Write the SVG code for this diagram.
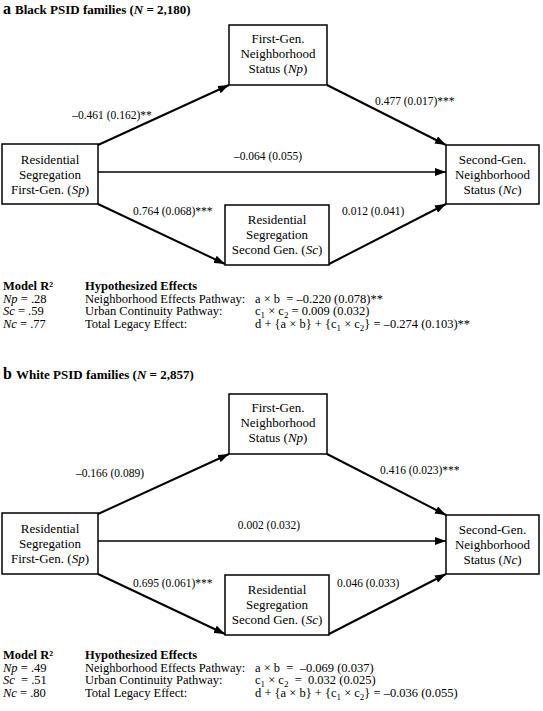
<svg xmlns="http://www.w3.org/2000/svg" width="543" height="711" viewBox="0 0 543 711">
<style>
text{font-family:"Liberation Serif","DejaVu Serif","Times New Roman",serif;font-size:13px;fill:#000}
.t{font-weight:bold}
.big{font-size:16px;font-weight:bold}
.c{text-anchor:middle}
.m{text-anchor:middle}
.lb{font-size:11.5px}
.tb{font-size:12.5px}
.sub{font-size:9px}
.box{fill:#fff;stroke:#000;stroke-width:1.5}
.ar{stroke:#000;stroke-width:2;fill:none;marker-end:url(#ah)}
.arh{stroke:#000;stroke-width:1.3;fill:none;marker-end:url(#ah)}
.i{font-style:italic}
</style>
<defs>
<marker id="ah" markerUnits="userSpaceOnUse" markerWidth="11" markerHeight="8" refX="11" refY="4" orient="auto">
<path d="M0,0 L11,4 L0,8 z" fill="#000"/>
</marker>
</defs>
<rect width="543" height="711" fill="#fff"/>

<!-- Panel a -->
<text x="3" y="14"><tspan class="big">a</tspan><tspan class="t" dx="4">Black PSID families (</tspan><tspan class="t i">N</tspan><tspan class="t"> = 2,180)</tspan></text>

<g id="connectors-a">
<line class="ar" x1="98" y1="145" x2="229" y2="85"/>
<line class="ar" x1="327" y1="85" x2="446" y2="145"/>
<line class="arh" x1="98" y1="172" x2="446" y2="172"/>
<line class="ar" x1="98" y1="204" x2="225" y2="264"/>
<line class="ar" x1="329" y1="264" x2="446" y2="204"/>
<text class="lb m" x="112" y="119">–0.461 (0.162)**</text>
<text class="lb" x="375" y="105">0.477 (0.017)***</text>
<text class="lb m" x="268" y="160">–0.064 (0.055)</text>
<text class="lb" x="133" y="215">0.764 (0.068)***</text>
<text class="lb" x="342" y="215">0.012 (0.041)</text>
</g>

<g id="a-Np">
<rect class="box" x="229" y="25" width="98" height="60"/>
<text class="c" x="278" y="43">First-Gen.</text>
<text class="c" x="278" y="58">Neighborhood</text>
<text class="c" x="278" y="73">Status (<tspan class="i">Np</tspan>)</text>
</g>
<g id="a-Sp">
<rect class="box" x="2" y="144" width="96" height="60"/>
<text class="c" x="50" y="164">Residential</text>
<text class="c" x="50" y="179">Segregation</text>
<text class="c" x="50" y="194">First-Gen. (<tspan class="i">Sp</tspan>)</text>
</g>
<g id="a-Nc">
<rect class="box" x="446" y="145" width="93" height="59"/>
<text class="c" x="492.5" y="164">Second-Gen.</text>
<text class="c" x="492.5" y="179">Neighborhood</text>
<text class="c" x="492.5" y="194">Status (<tspan class="i">Nc</tspan>)</text>
</g>
<g id="a-Sc">
<rect class="box" x="225" y="205" width="104" height="60"/>
<text class="c" x="277" y="224">Residential</text>
<text class="c" x="277" y="239">Segregation</text>
<text class="c" x="277" y="254">Second Gen. (<tspan class="i">Sc</tspan>)</text>
</g>

<g id="table-a">
<text class="t tb" x="3" y="290">Model R²</text>
<text class="t tb" x="85" y="290">Hypothesized Effects</text>
<text class="tb" x="3" y="303"><tspan class="i">Np</tspan> = .28</text>
<text class="tb" x="3" y="315"><tspan class="i">Sc</tspan> = .59</text>
<text class="tb" x="3" y="328"><tspan class="i">Nc</tspan> = .77</text>
<text class="tb" x="85" y="303">Neighborhood Effects Pathway:</text>
<text class="tb" x="85" y="315">Urban Continuity Pathway:</text>
<text class="tb" x="85" y="328">Total Legacy Effect:</text>
<text class="tb" x="255" y="303" xml:space="preserve">a × b  = –0.220 (0.078)**</text>
<text class="tb" x="255" y="315" xml:space="preserve">c<tspan class="sub" dy="3">1</tspan><tspan dy="-3"> × c</tspan><tspan class="sub" dy="3">2</tspan><tspan dy="-3"> = 0.009 (0.032)</tspan></text>
<text class="tb" x="255" y="328" xml:space="preserve">d + {a × b} + {c<tspan class="sub" dy="3">1</tspan><tspan dy="-3"> × c</tspan><tspan class="sub" dy="3">2</tspan><tspan dy="-3">} = –0.274 (0.103)**</tspan></text>
</g>

<!-- Panel b -->
<text x="3" y="379"><tspan class="big">b</tspan><tspan class="t" dx="4">White PSID families (</tspan><tspan class="t i">N</tspan><tspan class="t"> = 2,857)</tspan></text>

<g id="connectors-b">
<line class="ar" x1="98" y1="514" x2="229" y2="454"/>
<line class="ar" x1="327" y1="454" x2="446" y2="515"/>
<line class="arh" x1="98" y1="541" x2="446" y2="541"/>
<line class="ar" x1="98" y1="574" x2="225" y2="634"/>
<line class="ar" x1="329" y1="634" x2="446" y2="574"/>
<text class="lb m" x="110" y="477">–0.166 (0.089)</text>
<text class="lb" x="380" y="474">0.416 (0.023)***</text>
<text class="lb m" x="269" y="529">0.002 (0.032)</text>
<text class="lb" x="133" y="587">0.695 (0.061)***</text>
<text class="lb" x="337" y="587">0.046 (0.033)</text>
</g>

<g id="b-Np">
<rect class="box" x="229" y="394" width="98" height="60"/>
<text class="c" x="278" y="412">First-Gen.</text>
<text class="c" x="278" y="427">Neighborhood</text>
<text class="c" x="278" y="442">Status (<tspan class="i">Np</tspan>)</text>
</g>
<g id="b-Sp">
<rect class="box" x="2" y="513" width="96" height="61"/>
<text class="c" x="50" y="533">Residential</text>
<text class="c" x="50" y="548">Segregation</text>
<text class="c" x="50" y="563">First-Gen. (<tspan class="i">Sp</tspan>)</text>
</g>
<g id="b-Nc">
<rect class="box" x="446" y="515" width="93" height="59"/>
<text class="c" x="492.5" y="534">Second-Gen.</text>
<text class="c" x="492.5" y="549">Neighborhood</text>
<text class="c" x="492.5" y="564">Status (<tspan class="i">Nc</tspan>)</text>
</g>
<g id="b-Sc">
<rect class="box" x="225" y="575" width="104" height="60"/>
<text class="c" x="277" y="594">Residential</text>
<text class="c" x="277" y="609">Segregation</text>
<text class="c" x="277" y="624">Second Gen. (<tspan class="i">Sc</tspan>)</text>
</g>

<g id="table-b">
<text class="t tb" x="3" y="659">Model R²</text>
<text class="t tb" x="85" y="659">Hypothesized Effects</text>
<text class="tb" x="3" y="672"><tspan class="i">Np</tspan> = .49</text>
<text class="tb" x="3" y="684" xml:space="preserve"><tspan class="i">Sc</tspan>  = .51</text>
<text class="tb" x="3" y="697"><tspan class="i">Nc</tspan> = .80</text>
<text class="tb" x="85" y="672">Neighborhood Effects Pathway:</text>
<text class="tb" x="85" y="684">Urban Continuity Pathway:</text>
<text class="tb" x="85" y="697">Total Legacy Effect:</text>
<text class="tb" x="255" y="672" xml:space="preserve">a × b  =  –0.069 (0.037)</text>
<text class="tb" x="255" y="684" xml:space="preserve">c<tspan class="sub" dy="3">1</tspan><tspan dy="-3"> × c</tspan><tspan class="sub" dy="3">2</tspan><tspan dy="-3">  =  0.032 (0.025)</tspan></text>
<text class="tb" x="255" y="697" xml:space="preserve">d + {a × b} + {c<tspan class="sub" dy="3">1</tspan><tspan dy="-3"> × c</tspan><tspan class="sub" dy="3">2</tspan><tspan dy="-3">} = –0.036 (0.055)</tspan></text>
</g>
</svg>
